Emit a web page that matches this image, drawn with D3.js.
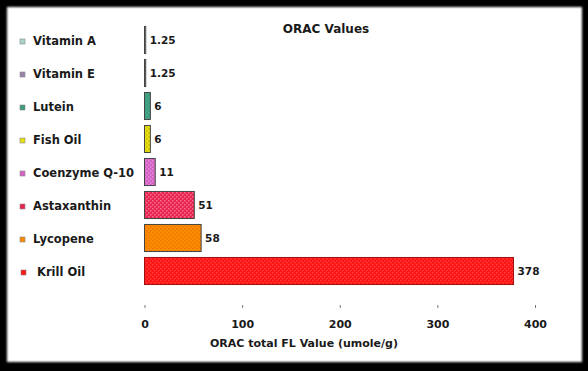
<!DOCTYPE html>
<html lang="en">
<head>
  <meta charset="UTF-8">
  <script src="https://d3js.org/d3.v7.min.js"></script>
  <title>ORAC Values</title>
  <style>
    html, body { margin: 0; padding: 0; background: #000; }
    svg { display: block; }
    text { font-family: "DejaVu Sans", Verdana, sans-serif; font-weight: bold; fill: #1a1a1a; }
  </style>
</head>
<body>
  <div id="chart"></div>
  <script>
    // Data
    const categories = ["Vitamin A", "Vitamin E", "Lutein", "Fish Oil", "Coenzyme Q-10", "Astaxanthin", "Lycopene", "Krill Oil"];
    const values = [1.25, 1.25, 6, 6, 11, 51, 58, 378];
    const valueLabels = ["1.25", "1.25", "6", "6", "11", "51", "58", "378"];
    const xTicks = [0, 100, 200, 300, 400];
    const colors = ["#a8d4cc", "#9a82ac", "#3c9c80", "#e8e010", "#d462c6", "#e8244e", "#ff8c00", "#ff1414"];
    const dotColors = ["#d8eee8", "#c4b0d0", "#5cb49a", "#b8a800", "#f0a0e0", "#ff90b0", "#d86c00", "#ff5050"];

    const width = 588;
    const height = 371;

    const svg = d3.select("#chart")
      .append("svg")
      .attr("width", width)
      .attr("height", height);

    const defs = svg.append("defs");

    // soft edge for the white panel
    defs.append("filter")
      .attr("id", "soft")
      .attr("x", "-5%").attr("y", "-5%").attr("width", "110%").attr("height", "110%")
      .append("feGaussianBlur")
      .attr("stdDeviation", 1.2);

    // dotted fill patterns
    colors.forEach((c, i) => {
      const p = defs.append("pattern")
        .attr("id", "pat" + i)
        .attr("width", 4)
        .attr("height", 4)
        .attr("patternUnits", "userSpaceOnUse");
      p.append("rect").attr("width", 4).attr("height", 4).attr("fill", c);
      p.append("rect").attr("x", 0).attr("y", 0).attr("width", 1.5).attr("height", 1.5)
        .attr("fill", dotColors[i]).attr("opacity", 0.7);
      p.append("rect").attr("x", 2).attr("y", 2).attr("width", 1.5).attr("height", 1.5)
        .attr("fill", dotColors[i]).attr("opacity", 0.7);
    });

    // frame
    svg.append("rect")
      .attr("width", width)
      .attr("height", height)
      .attr("fill", "#000");

    svg.append("rect")
      .attr("x", 7)
      .attr("y", 7)
      .attr("width", 575)
      .attr("height", 355)
      .attr("fill", "#fff")
      .attr("filter", "url(#soft)");

    // scales
    const x = d3.scaleLinear()
      .domain([0, 400])
      .range([144.5, 535]);

    const y = d3.scaleBand()
      .domain(categories)
      .range([23.5, 287.5])
      .paddingInner(0.18)
      .paddingOuter(0.09);

    // title
    svg.append("text")
      .attr("x", 326)
      .attr("y", 33)
      .attr("text-anchor", "middle")
      .style("font-size", "12px")
      .text("ORAC Values");

    // bars
    svg.append("g")
      .selectAll("rect")
      .data(categories)
      .join("rect")
      .attr("x", x(0))
      .attr("y", d => y(d))
      .attr("width", (d, i) => x(values[i]) - x(0))
      .attr("height", y.bandwidth())
      .attr("fill", (d, i) => `url(#pat${i})`)
      .attr("stroke", (d, i) => i === 7 ? "#a01010" : "#444")
      .attr("stroke-width", 1);

    // value labels
    svg.append("g")
      .selectAll("text")
      .data(categories)
      .join("text")
      .attr("x", (d, i) => x(values[i]) + 4)
      .attr("y", d => y(d) + y.bandwidth() / 2 + 4)
      .style("font-size", "10.5px")
      .text((d, i) => valueLabels[i]);

    // category labels with legend keys
    const labels = svg.append("g")
      .selectAll("g")
      .data(categories)
      .join("g")
      .attr("transform", d => `translate(0, ${y(d) + y.bandwidth() / 2})`);

    labels.append("rect")
      .attr("x", (d, i) => i === 7 ? 21 : 20)
      .attr("y", -1)
      .attr("width", 5)
      .attr("height", 5)
      .attr("fill", (d, i) => colors[i])
      .attr("stroke", "#888")
      .attr("stroke-width", 0.6);

    labels.append("text")
      .attr("x", (d, i) => i === 7 ? 37 : 33)
      .attr("y", 4.5)
      .style("font-size", "11.5px")
      .text(d => d);

    // x axis
    const xAxis = svg.append("g")
      .attr("transform", "translate(0, 305)")
      .call(d3.axisBottom(x).tickValues(xTicks).tickSize(3).tickPadding(12));

    xAxis.select(".domain").remove();
    xAxis.selectAll(".tick line").attr("stroke", "#777");
    xAxis.selectAll(".tick text")
      .style("font-family", "\"DejaVu Sans\", Verdana, sans-serif")
      .style("font-weight", "bold")
      .style("font-size", "11px")
      .attr("fill", "#1a1a1a");

    svg.append("text")
      .attr("x", 304)
      .attr("y", 347)
      .attr("text-anchor", "middle")
      .style("font-size", "11px")
      .text("ORAC total FL Value (umole/g)");
  </script>
</body>
</html>
